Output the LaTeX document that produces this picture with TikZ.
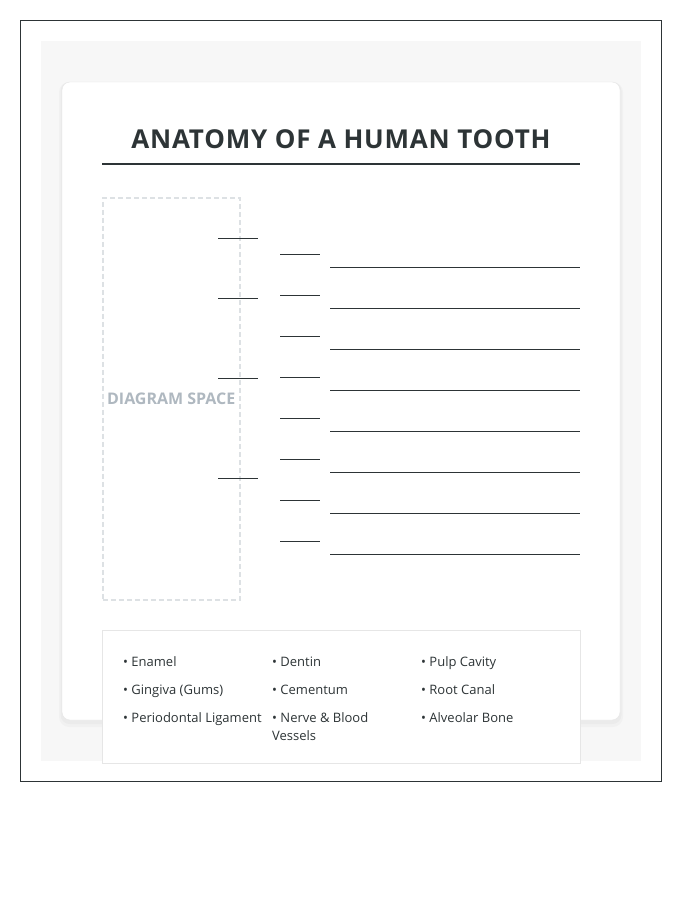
\documentclass[tikz,border=0pt]{standalone}
\usepackage{fontspec}
\setmainfont{Open Sans}
\usetikzlibrary{positioning}
\definecolor{inkdark}{HTML}{2D3436}
\definecolor{pagegray}{HTML}{F7F7F7}
\definecolor{cardline}{HTML}{E6E6E6}
\definecolor{dashgray}{HTML}{DDE1E4}
\definecolor{spacegray}{HTML}{AFB8C0}
\begin{document}
\begin{tikzpicture}[x=1bp,y=-1bp,
  labelline/.style={line width=1bp, inkdark},
  legenditem/.style={anchor=base west, inner sep=0pt,
    font=\fontsize{13bp}{18bp}\selectfont, text=inkdark}]

\useasboundingbox (0,0) rectangle (700,900);

\draw[inkdark, line width=1bp] (20.5,20.5) rectangle (661,781);
\fill[pagegray] (41,41) rectangle (641,761);

% card with a soft shadow
\fill[black, opacity=0.025, rounded corners=10bp] (59,82) rectangle (623,727);
\fill[black, opacity=0.025, rounded corners=9bp] (60.5,82) rectangle (621.5,724);
\filldraw[fill=white, draw=cardline, rounded corners=8bp] (62,82) rectangle (620,720);

\node (title) at (341,139) {\fontsize{26bp}{30bp}\selectfont\bfseries\addfontfeature{LetterSpace=3}\color{inkdark}ANATOMY OF A HUMAN TOOTH};
\draw[inkdark, line width=2bp] (102,164) -- (580,164);

\node[draw=dashgray, dashed, line width=1.5bp, dash pattern=on 5bp off 3bp, minimum width=137bp, minimum height=402bp, inner sep=0pt, anchor=north west] (space) at (102,197) {};
\node (spacetext) at (space.center) {\fontsize{16bp}{18bp}\selectfont\bfseries\color{spacegray}DIAGRAM SPACE};

% pointers out of the diagram
\foreach \y in {238,298,378,478}
  \draw[labelline] (218,\y) -- (258,\y);

% label blanks
\foreach \y in {0,...,7} {
  \draw[labelline] (280,254+41*\y) -- (320,254+41*\y);
  \draw[labelline] (330,267+41*\y) -- (580,267+41*\y);
}

% legend of parts
\filldraw[fill=white, draw=cardline] (102,630.5) rectangle (580,763);

\node[legenditem] (enamel) at (123,666) {• Enamel};
\node[legenditem] (gingiva) at (123,694) {• Gingiva (Gums)};
\node[legenditem] (ligament) at (123,722) {• Periodontal Ligament};

\node[legenditem] (dentin) at (272,666) {• Dentin};
\node[legenditem] (cementum) at (272,694) {• Cementum};
\node[legenditem] (nerve) at (272,722) {\vtop{\hbox{• Nerve \& Blood}\hbox{Vessels}}};

\node[legenditem] (pulp) at (421,666) {• Pulp Cavity};
\node[legenditem] (canal) at (421,694) {• Root Canal};
\node[legenditem] (bone) at (421,722) {• Alveolar Bone};

\end{tikzpicture}
\end{document}
